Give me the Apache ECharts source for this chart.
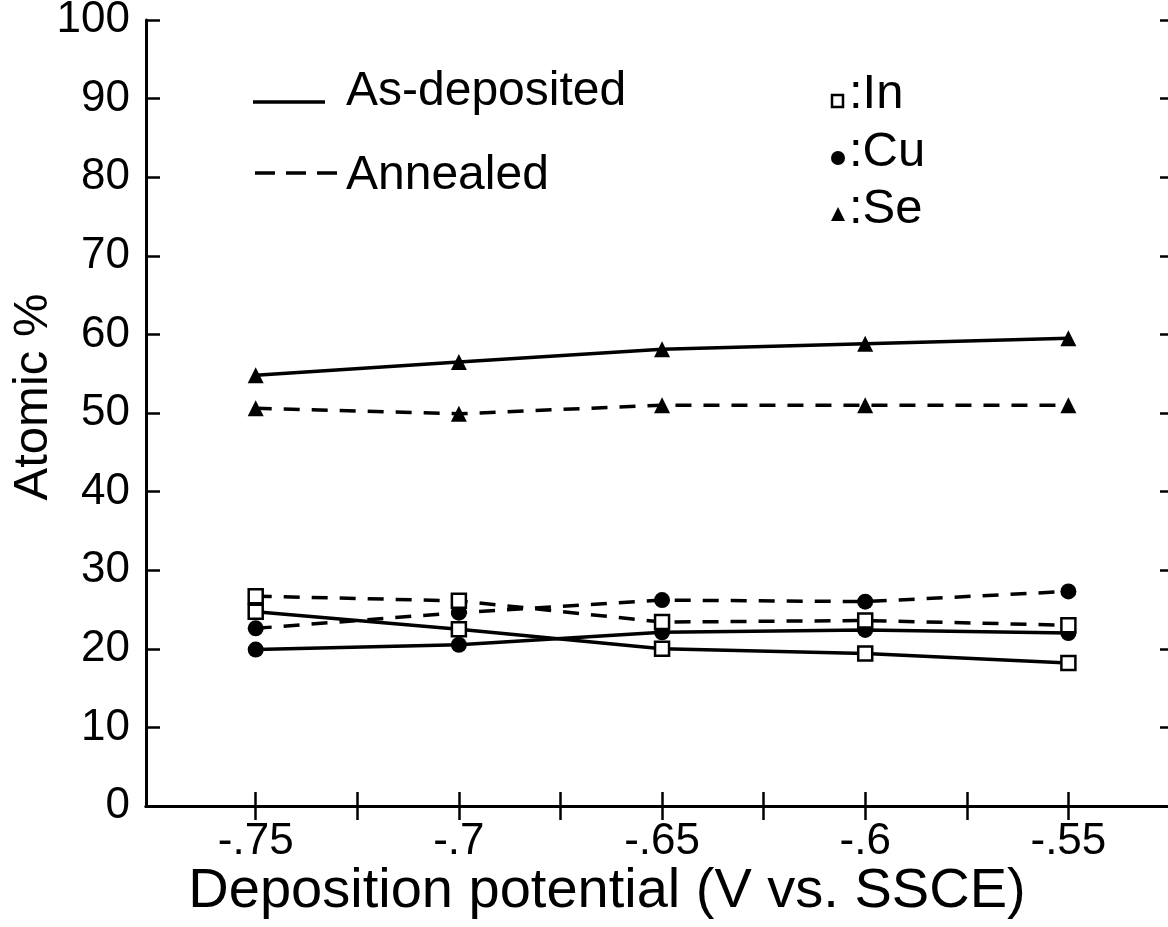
<!DOCTYPE html>
<html>
<head>
<meta charset="utf-8">
<script src="https://cdn.jsdelivr.net/npm/echarts@6/dist/echarts.min.js"></script>
<style>
  html, body { margin: 0; padding: 0; background: #fff; }
  #chart { width: 1168px; height: 927px; }
</style>
</head>
<body>
<div id="chart"></div>
<script>
// Composition of electrodeposited films vs. deposition potential
const potentials = [-0.75, -0.70, -0.65, -0.60, -0.55];

const inAsDeposited  = [24.7, 22.5, 20.0, 19.4, 18.2];
const inAnnealed     = [26.7, 26.1, 23.4, 23.6, 23.0];
const cuAsDeposited  = [19.9, 20.5, 22.1, 22.4, 22.0];
const cuAnnealed     = [22.6, 24.6, 26.2, 26.0, 27.3];
const seAsDeposited  = [54.8, 56.5, 58.1, 58.8, 59.5];
const seAnnealed     = [50.6, 49.9, 51.0, 51.0, 51.0];

const xTickValues  = [-0.75, -0.725, -0.70, -0.675, -0.65, -0.625, -0.60, -0.575, -0.55];
const xLabelValues = [-0.75, -0.70, -0.65, -0.60, -0.55];
const xTickLabels  = ['-.75', '-.7', '-.65', '-.6', '-.55'];

const lineLabels    = ['As-deposited', 'Annealed'];
const elementLabels = [':In', ':Cu', ':Se'];

const FONT = '"Liberation Sans", Arial, Helvetica, sans-serif';
const INK = '#000';

const chart = echarts.init(document.getElementById('chart'), null, { renderer: 'canvas' });

function pairs(ys) { return potentials.map((x, i) => [x, ys[i]]); }

function series(name, ys, dashed, symbol) {
  const isOpen = symbol === 'rect';
  return {
    name: name,
    type: 'line',
    data: pairs(ys),
    symbol: symbol,
    symbolSize: symbol === 'circle' ? 16 : (symbol === 'triangle' ? 16 : 14),
    showAllSymbol: true,
    lineStyle: { color: INK, width: 3.5, type: dashed ? [16, 12] : 'solid' },
    itemStyle: {
      color: isOpen ? '#fff' : INK,
      borderColor: INK,
      borderWidth: isOpen ? 2.5 : 0
    },
    z: isOpen ? 4 : 3,
    animation: false,
    emphasis: { disabled: true }
  };
}

function labelFor(v) {
  const i = xLabelValues.findIndex(t => Math.abs(t - v) < 1e-6);
  return i >= 0 ? xTickLabels[i] : '';
}

const axisLine = { show: true, lineStyle: { color: INK, width: 3 } };
const tickStyle = { color: INK, width: 2.5 };

const option = {
  backgroundColor: '#fff',
  animation: false,
  grid: { left: 146, top: 20, right: -4, bottom: 121, containLabel: false, outerBoundsMode: 'none' },
  xAxis: [
    {
      type: 'value',
      position: 'bottom',
      min: -0.777,
      max: -0.5245,
      axisLine: axisLine,
      axisTick: { show: true, inside: true, length: 14, lineStyle: tickStyle, customValues: xTickValues },
      axisLabel: {
        show: true, margin: 14, color: INK, fontSize: 44, fontFamily: FONT,
        customValues: xLabelValues,
        formatter: labelFor
      },
      splitLine: { show: false },
      name: 'Deposition potential (V vs. SSCE)',
      nameLocation: 'middle',
      nameGap: 58,
      nameMoveOverlap: false,
      nameTextStyle: { color: INK, fontSize: 56, fontFamily: FONT, padding: [0, 104, 0, 0] }
    },
    {
      type: 'value',
      position: 'top',
      min: -0.777,
      max: -0.5245,
      axisLine: axisLine,
      axisTick: { show: true, inside: true, length: 14, lineStyle: tickStyle, customValues: xTickValues },
      axisLabel: { show: false },
      splitLine: { show: false }
    }
  ],
  yAxis: [
    {
      type: 'value',
      position: 'left',
      min: 0,
      max: 100,
      interval: 10,
      axisLine: axisLine,
      axisTick: { show: true, inside: true, length: 14, lineStyle: tickStyle },
      axisLabel: { show: true, margin: 16, color: INK, fontSize: 44, fontFamily: FONT },
      splitLine: { show: false },
      name: 'Atomic %',
      nameLocation: 'middle',
      nameGap: 88,
      nameRotate: 90,
      nameMoveOverlap: false,
      nameTextStyle: { color: INK, fontSize: 49, fontFamily: FONT, padding: [0, 0, 0, 32] }
    },
    {
      type: 'value',
      position: 'right',
      min: 0,
      max: 100,
      interval: 10,
      axisLine: axisLine,
      axisTick: { show: true, inside: true, length: 12, lineStyle: tickStyle },
      axisLabel: { show: false },
      splitLine: { show: false }
    }
  ],
  series: [
    series('In as-deposited', inAsDeposited, false, 'rect'),
    series('In annealed', inAnnealed, true, 'rect'),
    series('Cu as-deposited', cuAsDeposited, false, 'circle'),
    series('Cu annealed', cuAnnealed, true, 'circle'),
    series('Se as-deposited', seAsDeposited, false, 'triangle'),
    series('Se annealed', seAnnealed, true, 'triangle')
  ],
  graphic: [
    // line-style key
    { type: 'line', shape: { x1: 253, y1: 102, x2: 325, y2: 102 }, style: { stroke: INK, lineWidth: 3.5 } },
    { type: 'text', left: 346, top: 68, style: { text: lineLabels[0], fill: INK, font: '48px ' + FONT } },
    { type: 'line', shape: { x1: 255, y1: 173, x2: 338, y2: 173 }, style: { stroke: INK, lineWidth: 3.5, lineDash: [20, 11] } },
    { type: 'text', left: 346, top: 152, style: { text: lineLabels[1], fill: INK, font: '48px ' + FONT } },
    // element key
    { type: 'rect', shape: { x: 832, y: 95, width: 11, height: 12 }, style: { fill: '#fff', stroke: INK, lineWidth: 2.5 } },
    { type: 'text', left: 849, top: 70, style: { text: elementLabels[0], fill: INK, font: '49px ' + FONT } },
    { type: 'circle', shape: { cx: 838, cy: 158, r: 7 }, style: { fill: INK } },
    { type: 'text', left: 849, top: 128, style: { text: elementLabels[1], fill: INK, font: '49px ' + FONT } },
    { type: 'polygon', shape: { points: [[838, 207], [831, 221], [845, 221]] }, style: { fill: INK } },
    { type: 'text', left: 849, top: 185, style: { text: elementLabels[2], fill: INK, font: '49px ' + FONT } }
  ]
};

chart.setOption(option);
</script>
</body>
</html>
